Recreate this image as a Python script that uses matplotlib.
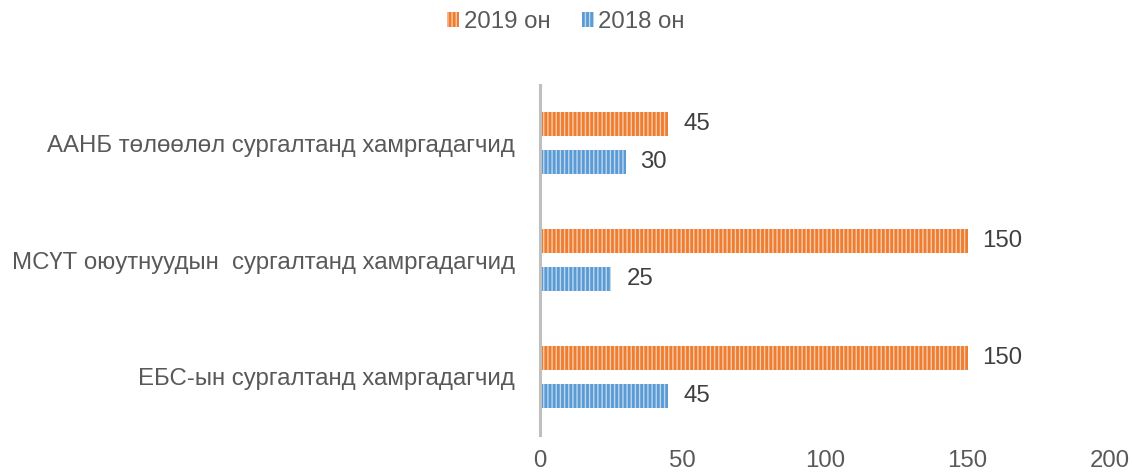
import matplotlib
matplotlib.use("Agg")
import matplotlib.pyplot as plt
import numpy as np
from matplotlib.patches import Patch

categories = ["ЕБС-ын сургалтанд хамргадагчид",
              "МСҮТ оюутнуудын  сургалтанд хамргадагчид",
              "ААНБ төлөөлөл сургалтанд хамргадагчид"]
series_names = ["2019 он", "2018 он"]
values_2019 = [150, 150, 45]
values_2018 = [45, 25, 30]
xticks = [0, 50, 100, 150, 200]

plt.rcParams['font.family'] = ['Liberation Sans', 'DejaVu Sans']
plt.rcParams['hatch.linewidth'] = 1.0

orange = '#ED7D31'
orange_h = '#F9CBAA'
blue = '#5B9BD5'
blue_h = '#BDD7EE'
txt = '#595959'
fs = 17.3

fig = plt.figure(figsize=(11.32, 4.73), dpi=100)
ax = fig.add_axes([540/1132, 1 - 435/473, 570/1132, 350/473])

y = np.arange(len(categories))
h = 0.205
off = 0.162
b1 = ax.barh(y + off, values_2019, height=h, color=orange, edgecolor=orange_h,
             linewidth=0, hatch='||||')
b2 = ax.barh(y - off, values_2018, height=h, color=blue, edgecolor=blue_h,
             linewidth=0, hatch='||||')

for bars, vals in ((b1, values_2019), (b2, values_2018)):
    for rect, v in zip(bars, vals):
        ax.annotate(f"{v}", (rect.get_width(), rect.get_y() + rect.get_height() / 2),
                    xytext=(15, 0), textcoords='offset pixels', va='center', ha='left',
                    fontsize=fs, color='#404040')

ax.set_xlim(0, 200)
ax.set_ylim(-0.5, 2.5)
ax.set_xticks(xticks)
ax.set_xticklabels([str(t) for t in xticks])
ax.set_yticks(y)
ax.set_yticklabels(categories)
ax.tick_params(axis='both', length=0, labelsize=fs, labelcolor=txt)
ax.tick_params(axis='y', pad=18)
ax.tick_params(axis='x', pad=11)
for s in ['top', 'right', 'bottom']:
    ax.spines[s].set_visible(False)
ax.spines['left'].set_color('#BFBFBF')
ax.spines['left'].set_linewidth(2.2)

handles = [Patch(facecolor=orange, edgecolor=orange_h, linewidth=0, hatch='||||'),
           Patch(facecolor=blue, edgecolor=blue_h, linewidth=0, hatch='||||')]
leg = fig.legend(handles, series_names, loc='center', bbox_to_anchor=(566/1132, 1 - 22/473),
                 ncol=2, frameon=False, fontsize=fs, handlelength=0.5, handleheight=0.6,
                 handletextpad=0.2, columnspacing=1.3)
for t in leg.get_texts():
    t.set_color(txt)

fig.savefig("out.png", dpi=100)
